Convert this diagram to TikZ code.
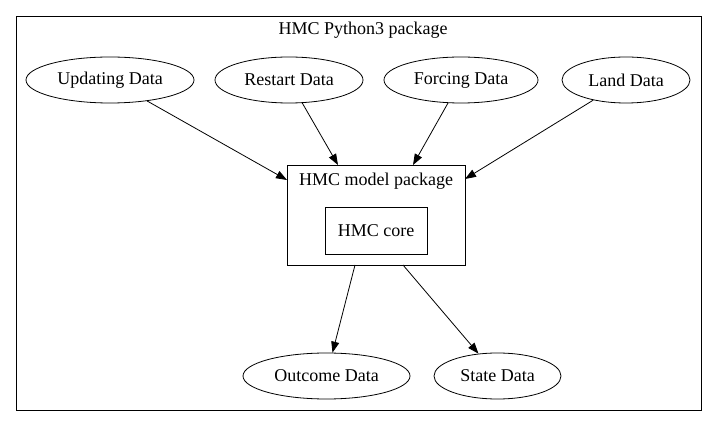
\documentclass[tikz,border=0pt]{standalone}
\usepackage{fontspec}
\setmainfont{Liberation Serif}
\usetikzlibrary{shapes.geometric,arrows.meta}
\begin{document}
\begin{tikzpicture}[x=1pt,y=-1pt,
  every node/.style={font=\fontsize{18}{21}\selectfont, inner sep=0pt},
  dnode/.style={draw, ellipse, line width=0.8pt, minimum height=46pt},
  boxn/.style={draw, rectangle, line width=0.8pt},
  conn/.style={draw, line width=0.8pt, -{Triangle[length=11pt,width=8pt]}}]
\useasboundingbox (0,0) rectangle (717,427);
\node[boxn, minimum width=685pt, minimum height=394pt] (outer) at (358.5,213) {};
\node (outertitle) at (363,30) {HMC Python3 package};
\node[dnode, minimum width=168pt] (upd) at (110,80) {Updating Data};
\node[dnode, minimum width=148pt] (rst) at (289,80) {Restart Data};
\node[dnode, minimum width=154pt] (frc) at (461,80) {Forcing Data};
\node[dnode, minimum width=128pt] (lnd) at (626,80) {Land Data};
\node[boxn, minimum width=178pt, minimum height=100pt] (pkg) at (376,215) {};
\node (pkgtitle) at (376,181) {HMC model package};
\node[boxn, minimum width=102pt, minimum height=47pt] (core) at (376,230.5) {HMC core};
\node[dnode, minimum width=167pt] (out) at (326.5,376) {Outcome Data};
\node[dnode, minimum width=127pt] (st) at (497.5,376) {State Data};
\coordinate (pl) at (287,180);
\coordinate (pr) at (465,179);
\coordinate (pt1) at (338,165);
\coordinate (pt2) at (413,165);
\coordinate (pb1) at (355,265);
\coordinate (pb2) at (403,265);
\draw[conn] (upd) -- (pl);
\draw[conn] (rst) -- (pt1);
\draw[conn] (frc) -- (pt2);
\draw[conn] (lnd) -- (pr);
\draw[conn] (pb1) -- (out);
\draw[conn] (pb2) -- (st);
\end{tikzpicture}
\end{document}
